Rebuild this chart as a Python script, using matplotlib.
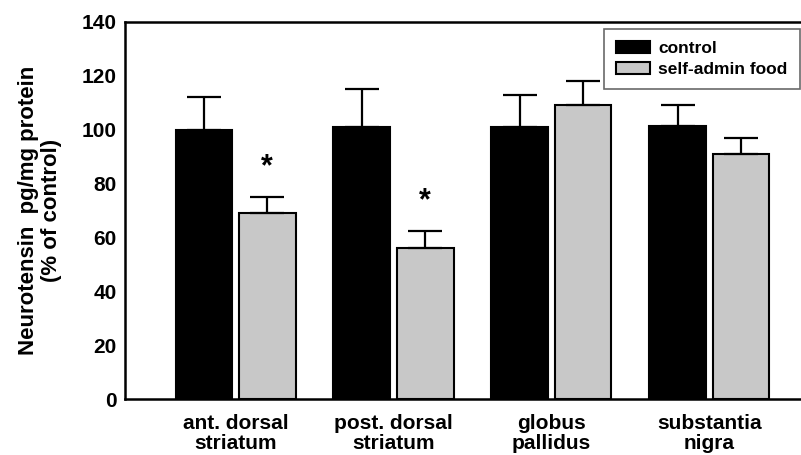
import numpy as np
import matplotlib
matplotlib.use("Agg")
import matplotlib.pyplot as plt

regions = ["ant. dorsal\nstriatum", "post. dorsal\nstriatum", "globus\npallidus", "substantia\nnigra"]
control = [100, 101, 101, 101.5]
control_err = [12, 14, 12, 7.5]
food = [69, 56, 109, 91]
food_err = [6, 6.5, 9, 6]
significant = [True, True, False, False]
yticks = [0, 20, 40, 60, 80, 100, 120, 140]

plt.rcParams["font.family"] = ["Liberation Sans", "DejaVu Sans"]
plt.rcParams["font.weight"] = "bold"

fig = plt.figure(figsize=(8.01, 4.55), dpi=100)
ax = fig.add_axes([0.156, 0.123, 0.844, 0.829])

x = np.arange(len(regions))
w = 0.36
off = 0.2

err_kw = dict(ecolor="black", elinewidth=1.6, capsize=12, capthick=1.6)
ax.bar(x - off, control, w, color="black", edgecolor="black", linewidth=1.5,
       yerr=[np.zeros(len(x)), control_err], error_kw=err_kw, label="control", zorder=2)
ax.bar(x + off, food, w, color="#c8c8c8", edgecolor="black", linewidth=1.5,
       yerr=[np.zeros(len(x)), food_err], error_kw=err_kw, label="self-admin food", zorder=2)

for i, sig in enumerate(significant):
    if sig:
        ax.text(x[i] + off, food[i] + food_err[i] + 5.5, "*", ha="center", va="bottom",
                fontsize=22, fontweight="bold")

ax.set_xlim(-0.70, 3.58)
ax.set_ylim(0, 140)
ax.set_yticks(yticks)
ax.set_xticks(x)
ax.set_xticklabels(regions, fontsize=15, fontweight="bold", linespacing=1.05)
ax.tick_params(axis="y", length=0, labelsize=15, pad=6)
ax.tick_params(axis="x", length=0, pad=11)
for lab in ax.get_yticklabels():
    lab.set_fontweight("bold")
ax.set_ylabel("Neurotensin  pg/mg protein\n(% of control)", fontsize=16, fontweight="bold",
              labelpad=14, linespacing=1.15)

for side in ["left", "bottom", "top"]:
    ax.spines[side].set_linewidth(1.8)
ax.spines["right"].set_visible(False)

leg = ax.legend(loc="upper right", bbox_to_anchor=(0.998, 0.981), borderaxespad=0,
                fontsize=12.5, frameon=True, fancybox=False, edgecolor="#444444",
                handlelength=2.0, handleheight=0.7, borderpad=0.7, labelspacing=0.3,
                handletextpad=0.45)
leg.get_frame().set_linewidth(1.2)
for t in leg.get_texts():
    t.set_fontweight("bold")

fig.savefig("out.png", dpi=100)
plt.close(fig)
